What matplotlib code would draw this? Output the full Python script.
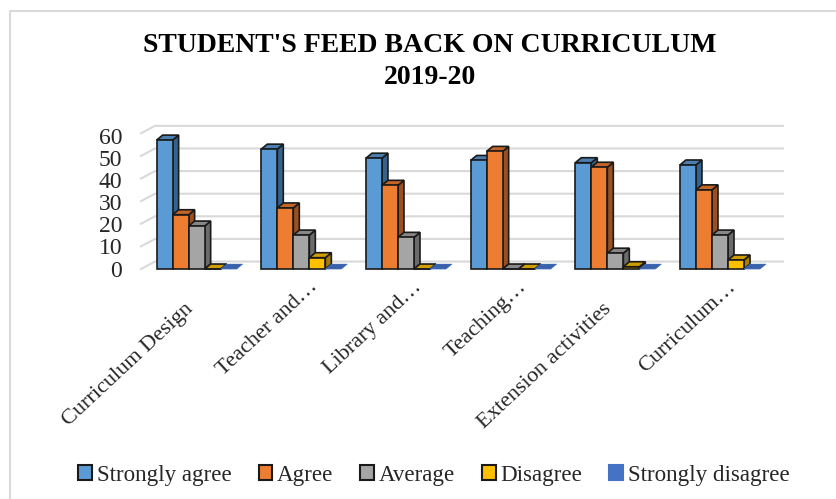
import matplotlib
matplotlib.use("Agg")
import matplotlib.pyplot as plt
from matplotlib.patches import Polygon, Rectangle
from matplotlib.lines import Line2D

plt.rcParams["font.family"] = ["Liberation Serif", "DejaVu Serif"]

W, H = 836, 499

categories = ["Curriculum Design", "Teacher and…", "Library and…", "Teaching…",
              "Extension activities", "Curriculum…"]
series_names = ["Strongly agree", "Agree", "Average", "Disagree", "Strongly disagree"]
strongly_agree = [57, 53, 49, 48, 47, 46]
agree = [24, 27, 37, 52, 45, 35]
average = [19, 15, 14, 0, 7, 15]
disagree = [0, 5, 0, 0, 1, 4]
strongly_disagree = [0, 0, 0, 0, 0, 0]
series = [strongly_agree, agree, average, disagree, strongly_disagree]
yticks = [0, 10, 20, 30, 40, 50, 60]

front = ["#5b9bd5", "#ed7d31", "#a5a5a5", "#ffc000", "#4472c4"]
top = ["#4a7fb0", "#c46528", "#878787", "#d19e00", "#3a62a8"]
side = ["#35638c", "#9c5020", "#6b6b6b", "#a67e00", "#2e4f87"]
edge = "#1a1a1a"

fig = plt.figure(figsize=(W / 100, H / 100), dpi=100)
# axes spans the front plane of the fake 3D box
ax = fig.add_axes([141 / W, 1 - 269 / H, 628 / W, 135.7 / H])
ax.set_xlim(0, 6)
ax.set_ylim(0, 60)
ax.axis("off")

wall_dx, wall_dy = 0.134, 3.3
bar_dx, bar_dy = 0.057, 2.2
bar_w = 0.153
shift = 0.032

# wall and floor gridlines
for v in yticks:
    ax.plot([0, wall_dx, 6 + wall_dx], [v, v + wall_dy, v + wall_dy],
            color="#d9d9d9", lw=1.5, clip_on=False, zorder=1)
    # labels are spaced a little tighter than the gridlines
    ax.text(-0.18, v * 0.98 - 0.9, str(v), ha="right", va="center", fontsize=17, color="#262626")

for s, vals in enumerate(series):
    for c, v in enumerate(vals):
        x0 = c + 0.5 + shift + (s - 2.5) * bar_w
        x1 = x0 + bar_w
        # the last series has no outline, same as in the legend
        ec = edge if s < 4 else front[s]
        lw = 1.2 if s < 4 else 0.3
        z = 3 + s * 0.1 + c
        ax.add_patch(Polygon([(x1, 0), (x1 + bar_dx, bar_dy), (x1 + bar_dx, v + bar_dy), (x1, v)],
                             fc=side[s], ec=ec, lw=lw, clip_on=False, zorder=z))
        ax.add_patch(Polygon([(x0, v), (x0 + bar_dx, v + bar_dy), (x1 + bar_dx, v + bar_dy), (x1, v)],
                             fc=top[s], ec=ec, lw=lw, clip_on=False, zorder=z))
        ax.add_patch(Rectangle((x0, 0), bar_w, v, fc=front[s], ec=ec, lw=lw,
                               clip_on=False, zorder=z))

for c, name in enumerate(categories):
    # truncated labels sit further up and to the right
    offset = (12, -11) if name.endswith("…") else (-2, -27)
    ax.annotate(name, xy=(c + 0.5, 0), xytext=offset, textcoords="offset points",
                rotation=43, rotation_mode="anchor", ha="right", va="center",
                fontsize=16, color="#262626", annotation_clip=False)

fig.text(430 / W, 1 - 46 / H, "STUDENT'S FEED BACK ON CURRICULUM", ha="center", va="center",
         fontsize=20, fontweight="bold", color="black")
fig.text(430 / W, 1 - 78 / H, "2019-20", ha="center", va="center",
         fontsize=20, fontweight="bold", color="black")

# outer chart border, only the left and top parts show in the crop
fig.add_artist(Line2D([9.5 / W, 9.5 / W, 1], [0, 1 - 11 / H, 1 - 11 / H], color="#d9d9d9", lw=1.5))

handles = [Rectangle((0, 0), 1, 1, fc=front[i], ec=edge if i < 4 else front[i], lw=1.5)
           for i in range(5)]
fig.legend(handles, series_names, loc="center", bbox_to_anchor=(434 / W, 1 - 475 / H), ncol=5,
           frameon=False, fontsize=16.6, handlelength=0.6, handleheight=0.6,
           handletextpad=0.2, columnspacing=1.17, labelcolor="#262626")

fig.savefig("out.png", dpi=100)
